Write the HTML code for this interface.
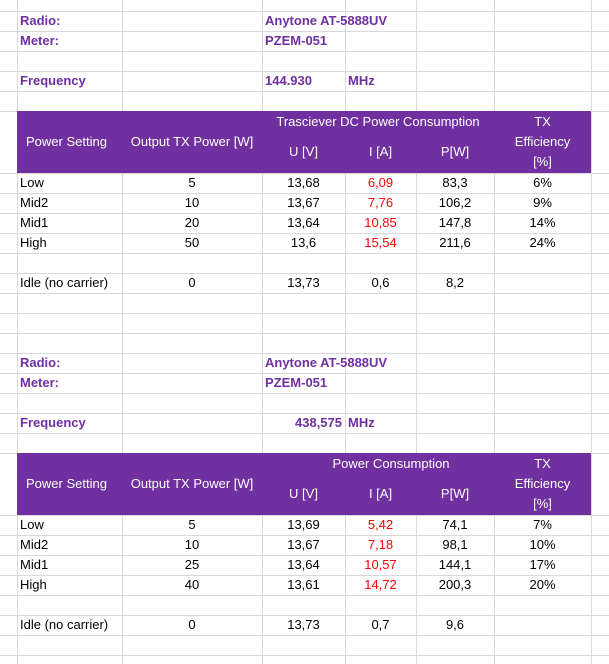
<!DOCTYPE html>
<html><head><meta charset="utf-8">
<style>
html,body{margin:0;padding:0;background:#fff;}
#sheet{position:relative;width:609px;height:664px;overflow:hidden;font-family:"Liberation Sans",sans-serif;font-size:13px;color:#000;}
.c{position:absolute;height:20px;line-height:20px;white-space:nowrap;}
.l{text-align:left;padding-left:3px;box-sizing:border-box;}
.m{text-align:center;}
.r{text-align:right;padding-right:3px;box-sizing:border-box;}
.t{color:#7030a0;font-weight:bold;}
.red{color:#ff0000;}
.w{color:#fff;}
.hdr{position:absolute;background:#7030a0;}
</style></head><body>
<div id="sheet">
<svg id="grid" width="609" height="664" style="position:absolute;left:0;top:0"></svg>
</div>
<script>
const S=document.getElementById('sheet');
const G=document.getElementById('grid');
const cols=[0,17,122,262,345,416,494,591,609];
const hl=[11,31,51,71,91,111,173,193,213,233,253,273,293,313,333,353,373,393,413,433,453,515,535,555,575,595,615,635,655];
const NS='http://www.w3.org/2000/svg';
hl.forEach(y=>{const l=document.createElementNS(NS,'line');l.setAttribute('x1',0);l.setAttribute('x2',609);l.setAttribute('y1',y+0.5);l.setAttribute('y2',y+0.5);l.setAttribute('stroke','#d9d9d9');G.appendChild(l);});
cols.slice(1,8).forEach(x=>{const l=document.createElementNS(NS,'line');l.setAttribute('x1',x+0.5);l.setAttribute('x2',x+0.5);l.setAttribute('y1',0);l.setAttribute('y2',664);l.setAttribute('stroke','#d9d9d9');G.appendChild(l);});
function hdr(y){const d=document.createElement('div');d.className='hdr';d.style.left='17px';d.style.top=y+'px';d.style.width='574px';d.style.height='62px';


S.appendChild(d);}
hdr(111);hdr(453);
function cell(ci,y,txt,cls,name,span){const d=document.createElement('div');d.className='c '+cls;const x=cols[ci];const x2=cols[ci+(span||1)];d.style.left=x+'px';d.style.width=(x2-x)+'px';d.style.top=y+'px';d.textContent=txt;


S.appendChild(d);return d;}
function block(y0,freq,freqCls,hdrTitle,rows,idle){
cell(1,y0,'Radio:','l t','radio-label');
cell(3,y0,'Anytone AT-5888UV','l t','radio-value',3);
cell(1,y0+20,'Meter:','l t','meter-label');
cell(3,y0+20,'PZEM-051','l t','meter-value',2);
cell(1,y0+60,'Frequency','l t','frequency-label');
cell(3,y0+60,freq,freqCls+' t','frequency-value');
cell(4,y0+60,'MHz','l t','frequency-unit');
const h=y0+100;
cell(3,h+1,hdrTitle,'m w','dc-power-header',3).style.left=(hdrTitle.length>20?262:275)+'px';
cell(1,h+21,'Power Setting','l w','power-setting-header').style.paddingLeft='9px';
cell(2,h+21,'Output TX Power [W]','m w','output-power-header');
cell(3,h+31,'U [V]','m w','voltage-header');
cell(4,h+31,'I [A]','m w','current-header');
cell(5,h+31,'P[W]','m w','power-header');
cell(6,h+1,'TX','m w','efficiency-header-1');
cell(6,h+21,'Efficiency','m w','efficiency-header-2');
cell(6,h+41,'[%]','m w','efficiency-header-3');
let y=h+62;
rows.forEach(r=>{cell(1,y,r[0],'l','row-label');cell(2,y,r[1],'m','output-power');cell(3,y,r[2],'m','voltage');cell(4,y,r[3],'m red','current');cell(5,y,r[4],'m','power');cell(6,y,r[5],'m','efficiency');y+=20;});
y+=20;
cell(1,y,idle[0],'l','idle-label');cell(2,y,idle[1],'m','idle-output');cell(3,y,idle[2],'m','idle-voltage');cell(4,y,idle[3],'m','idle-current');cell(5,y,idle[4],'m','idle-power');
}
block(11,'144.930','l','Trasciever  DC Power Consumption',
[['Low','5','13,68','6,09','83,3','6%'],['Mid2','10','13,67','7,76','106,2','9%'],['Mid1','20','13,64','10,85','147,8','14%'],['High','50','13,6','15,54','211,6','24%']],
['Idle (no carrier)','0','13,73','0,6','8,2']);
block(353,'438,575','r','Power Consumption',
[['Low','5','13,69','5,42','74,1','7%'],['Mid2','10','13,67','7,18','98,1','10%'],['Mid1','25','13,64','10,57','144,1','17%'],['High','40','13,61','14,72','200,3','20%']],
['Idle (no carrier)','0','13,73','0,7','9,6']);
</script>
</body></html>
